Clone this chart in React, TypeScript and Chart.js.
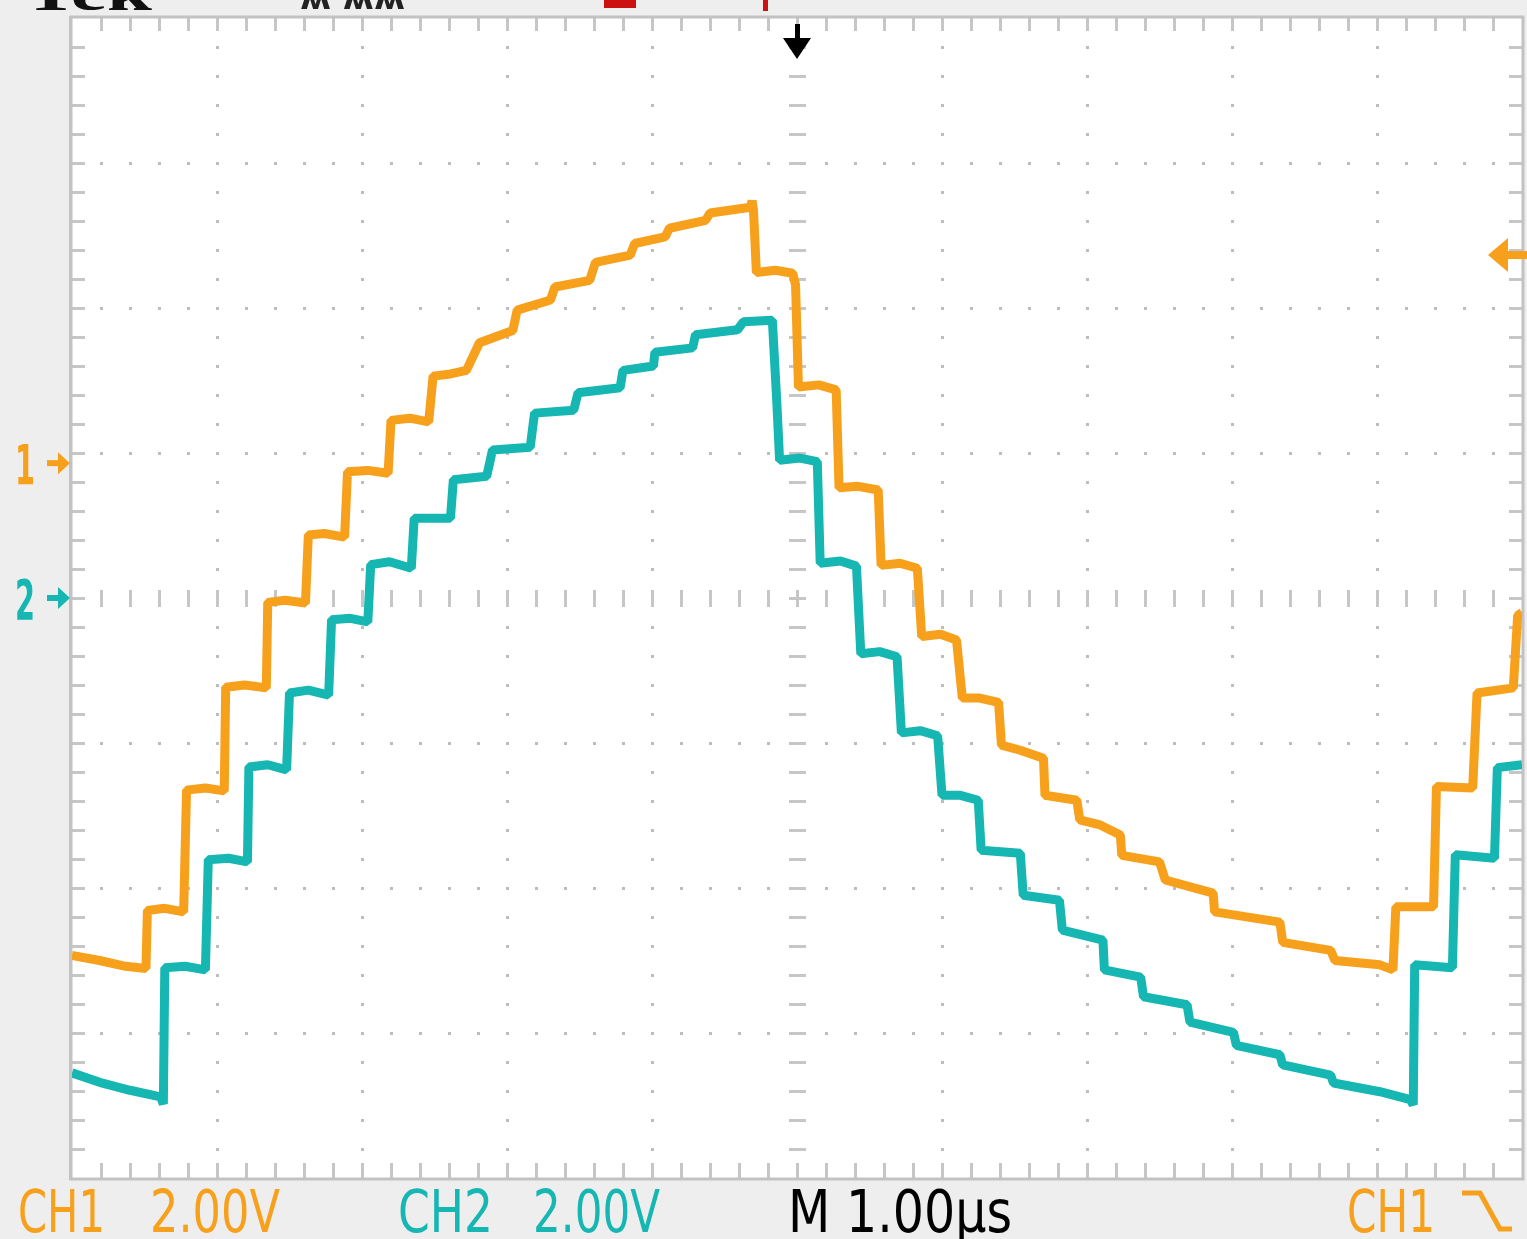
import React, { useEffect, useRef } from "react";
import { Chart, registerables } from "chart.js";

Chart.register(...registerables);

// ---- Scope settings ----
const timePerDiv = 1.0; // µs / div
const ch1VoltsPerDiv = 2.0;
const ch2VoltsPerDiv = 2.0;
const ch1Position = 0.93; // divisions above centre
const ch2Position = 0.0;
const triggerLevel = 2.87; // V on CH1

const labelCh1 = "CH1";
const labelCh1Scale = "2.00V";
const labelCh2 = "CH2";
const labelCh2Scale = "2.00V";
const labelTime = "M 1.00µs";
const labelTrigSource = "CH1";

// ---- CH1 trace (time µs, volts) ----
const ch1Time = [
  -5.0, -4.81, -4.63, -4.49, -4.48, -4.36, -4.23, -4.21, -4.08, -3.95, -3.94, -3.81, -3.66, -3.65, -3.53,
  -3.39, -3.37, -3.26, -3.12, -3.1, -2.96, -2.82, -2.8, -2.67, -2.54, -2.51, -2.39, -2.28, -2.19, -1.96,
  -1.93, -1.7, -1.67, -1.43, -1.39, -1.15, -1.12, -0.91, -0.88, -0.63, -0.6, -0.32, -0.31, -0.3, -0.28,
  -0.15, -0.03, -0.01, 0.01, 0.15, 0.27, 0.29, 0.42, 0.56, 0.58, 0.71, 0.83, 0.86, 0.99, 1.1,
  1.14, 1.26, 1.39, 1.41, 1.54, 1.7, 1.71, 1.93, 1.95, 2.09, 2.23, 2.24, 2.5, 2.54, 2.87,
  2.88, 3.33, 3.35, 3.68, 3.71, 4.02, 4.11, 4.13, 4.39, 4.41, 4.66, 4.69, 4.94, 4.97, 5.0,
];
const ch1Volts = [
  -6.79, -6.86, -6.94, -6.97, -6.17, -6.14, -6.19, -4.51, -4.48, -4.52, -3.09, -3.06, -3.1, -1.92, -1.89,
  -1.93, -0.99, -0.97, -1.02, -0.12, -0.1, -0.14, 0.59, 0.62, 0.57, 1.2, 1.23, 1.28, 1.66, 1.83,
  2.11, 2.25, 2.43, 2.52, 2.77, 2.87, 3.03, 3.12, 3.24, 3.35, 3.45, 3.53, 3.62, 3.49, 2.63,
  2.66, 2.62, 2.46, 1.05, 1.08, 1.01, -0.34, -0.32, -0.37, -1.41, -1.38, -1.45, -2.39, -2.36, -2.44,
  -3.24, -3.24, -3.3, -3.89, -3.96, -4.07, -4.58, -4.65, -4.92, -4.99, -5.13, -5.41, -5.5, -5.75, -5.93,
  -6.19, -6.33, -6.61, -6.72, -6.86, -6.92, -6.99, -6.12, -6.12, -4.46, -4.48, -3.17, -3.1, -2.1, -2.06,
];

// ---- CH2 trace (time µs, volts) ----
const ch2Time = [
  -5.0, -4.81, -4.6, -4.39, -4.37, -4.36, -4.22, -4.08, -4.06, -3.92, -3.79, -3.78, -3.65, -3.52, -3.5,
  -3.37, -3.23, -3.21, -3.08, -2.96, -2.94, -2.81, -2.66, -2.64, -2.39, -2.37, -2.14, -2.1, -1.84, -1.81,
  -1.54, -1.51, -1.22, -1.2, -0.99, -0.98, -0.72, -0.7, -0.41, -0.37, -0.17, -0.14, -0.12, 0.02, 0.14,
  0.16, 0.3, 0.41, 0.44, 0.57, 0.69, 0.72, 0.85, 0.97, 1.0, 1.12, 1.25, 1.27, 1.54, 1.56,
  1.81, 1.83, 2.11, 2.12, 2.37, 2.39, 2.69, 2.71, 3.01, 3.03, 3.33, 3.35, 3.68, 3.7, 4.02,
  4.23, 4.25, 4.26, 4.52, 4.54, 4.81, 4.83, 5.0,
];
const ch2Volts = [
  -6.55, -6.68, -6.79, -6.88, -6.98, -5.1, -5.08, -5.13, -3.61, -3.59, -3.64, -2.33, -2.3, -2.37, -1.31,
  -1.27, -1.34, -0.3, -0.28, -0.33, 0.46, 0.5, 0.41, 1.1, 1.1, 1.63, 1.68, 2.04, 2.08, 2.55,
  2.59, 2.83, 2.9, 3.14, 3.2, 3.39, 3.45, 3.63, 3.7, 3.81, 3.83, 2.73, 1.9, 1.93, 1.88,
  0.48, 0.51, 0.44, -0.77, -0.74, -0.81, -1.86, -1.83, -1.9, -2.72, -2.72, -2.79, -3.48, -3.52, -4.1,
  -4.17, -4.58, -4.72, -5.13, -5.23, -5.5, -5.61, -5.85, -5.99, -6.17, -6.3, -6.44, -6.58, -6.69, -6.81,
  -6.92, -6.99, -5.06, -5.1, -3.54, -3.59, -2.34, -2.3,
];

const ORANGE = "#f7a01c";
const TEAL = "#16b6b2";
const GRID = "#bdbdbd";
const BG = "#eeeeee";

function fitText(
  ctx: CanvasRenderingContext2D,
  text: string,
  x: number,
  baseline: number,
  width: number,
  font: string,
  color: string
) {
  ctx.save();
  ctx.font = font;
  ctx.fillStyle = color;
  ctx.textBaseline = "alphabetic";
  ctx.textAlign = "left";
  const w = ctx.measureText(text).width || 1;
  ctx.translate(x, baseline);
  ctx.scale(width / w, 1);
  ctx.fillText(text, 0, 0);
  ctx.restore();
}

const scopePlugin = {
  id: "scopeScreen",
  beforeDraw(chart: any) {
    const ctx: CanvasRenderingContext2D = chart.ctx;
    const { left, right, top, bottom } = chart.chartArea;
    const xs = chart.scales.x;
    const ys = chart.scales.y;
    ctx.save();
    ctx.fillStyle = BG;
    ctx.fillRect(0, 0, chart.width, chart.height);
    ctx.fillStyle = "#ffffff";
    ctx.fillRect(left, top, right - left, bottom - top);

    // dotted graticule
    ctx.fillStyle = GRID;
    for (let i = -4; i <= 4; i++) {
      if (i === 0) continue;
      const x = xs.getPixelForValue(i * timePerDiv);
      for (let k = -19; k <= 19; k++) {
        const y = ys.getPixelForValue(k / 5);
        ctx.fillRect(Math.round(x) - 1, Math.round(y) - 1, 3, 3);
      }
    }
    for (let j = -3; j <= 3; j++) {
      if (j === 0) continue;
      const y = ys.getPixelForValue(j);
      for (let k = -24; k <= 24; k++) {
        const x = xs.getPixelForValue((k / 5) * timePerDiv);
        ctx.fillRect(Math.round(x) - 1, Math.round(y) - 1, 3, 3);
      }
    }

    // centre axes with minor ticks
    ctx.fillStyle = "#c6c6c6";
    const cx = xs.getPixelForValue(0);
    const cy = ys.getPixelForValue(0);
    for (let k = -19; k <= 19; k++) {
      const y = ys.getPixelForValue(k / 5);
      ctx.fillRect(Math.round(cx) - 8, Math.round(y) - 1, 17, 3);
    }
    for (let k = -24; k <= 24; k++) {
      const x = xs.getPixelForValue((k / 5) * timePerDiv);
      ctx.fillRect(Math.round(x) - 1, Math.round(cy) - 8, 3, 17);
    }
    // edge ticks
    for (let k = -24; k <= 24; k++) {
      const x = Math.round(xs.getPixelForValue((k / 5) * timePerDiv));
      ctx.fillRect(x - 1, top, 3, 13);
      ctx.fillRect(x - 1, bottom - 15, 3, 15);
    }
    for (let k = -19; k <= 19; k++) {
      const y = Math.round(ys.getPixelForValue(k / 5));
      ctx.fillRect(left, y - 1, 13, 3);
      ctx.fillRect(right - 13, y - 1, 13, 3);
    }
    // border
    ctx.strokeStyle = "#c2c2c2";
    ctx.lineWidth = 3;
    ctx.strokeRect(left - 1, top - 1, right - left + 2, bottom - top + 2);
    ctx.fillStyle = "#c2c2c2";
    ctx.fillRect(left - 3, top - 2, 3, bottom - top + 4);
    ctx.restore();
  },
  afterDraw(chart: any) {
    const ctx: CanvasRenderingContext2D = chart.ctx;
    const { left, right, top } = chart.chartArea;
    const xs = chart.scales.x;
    const ys = chart.scales.y;
    ctx.save();

    // cut-off status line at top
    fitText(ctx, "Tek", 24, 10, 128, "bold 50px 'Liberation Serif'", "#111111");
    fitText(ctx, "ʍ ʍʍ", 300, 9, 105, "bold 26px 'DejaVu Sans'", "#222222");
    ctx.fillStyle = "#cc1111";
    ctx.fillRect(604, 0, 32, 8);
    ctx.fillRect(763, 0, 5, 11);

    // trigger position arrow
    const tx = Math.round(xs.getPixelForValue(0));
    ctx.fillStyle = "#000000";
    ctx.fillRect(tx - 2, top + 6, 5, 20);
    ctx.beginPath();
    ctx.moveTo(tx - 14, top + 20);
    ctx.lineTo(tx + 14, top + 20);
    ctx.lineTo(tx, top + 41);
    ctx.closePath();
    ctx.fill();

    // trigger level arrow (right edge)
    const ty = ys.getPixelForValue(triggerLevel / ch1VoltsPerDiv + ch1Position);
    ctx.fillStyle = ORANGE;
    ctx.fillRect(right - 16, ty - 4, 21, 8);
    ctx.beginPath();
    ctx.moveTo(right - 34, ty);
    ctx.lineTo(right - 14, ty - 17);
    ctx.lineTo(right - 14, ty + 17);
    ctx.closePath();
    ctx.fill();

    // channel ground markers
    const markers = [
      { label: "1", pos: ch1Position, color: ORANGE },
      { label: "2", pos: ch2Position, color: TEAL },
    ];
    for (const m of markers) {
      const y = ys.getPixelForValue(m.pos);
      fitText(ctx, m.label, 15, y + 21, 20, "bold 56px 'DejaVu Sans'", m.color);
      ctx.fillStyle = m.color;
      ctx.fillRect(left - 25, y - 3, 14, 6);
      ctx.beginPath();
      ctx.moveTo(left - 14, y - 11);
      ctx.lineTo(left - 2, y);
      ctx.lineTo(left - 14, y + 11);
      ctx.closePath();
      ctx.fill();
    }

    // bottom readout
    const base = 1232;
    const f = "58px 'DejaVu Sans'";
    fitText(ctx, labelCh1, 18, base, 87, f, ORANGE);
    fitText(ctx, labelCh1Scale, 150, base, 130, f, ORANGE);
    fitText(ctx, labelCh2, 398, base, 95, f, TEAL);
    fitText(ctx, labelCh2Scale, 533, base, 127, f, TEAL);
    fitText(ctx, labelTime, 788, base, 224, f, "#000000");
    fitText(ctx, labelTrigSource, 1347, base, 88, f, ORANGE);
    // falling edge symbol
    ctx.strokeStyle = ORANGE;
    ctx.lineWidth = 5;
    ctx.beginPath();
    ctx.moveTo(1462, 1193);
    ctx.lineTo(1480, 1193);
    ctx.lineTo(1500, 1229);
    ctx.lineTo(1512, 1229);
    ctx.stroke();
    ctx.restore();
  },
};

export default function App() {
  const canvasRef = useRef<HTMLCanvasElement | null>(null);

  useEffect(() => {
    document.body.style.margin = "0";
    const canvas = canvasRef.current;
    if (!canvas) return;
    const ch1Data = ch1Time.map((t, i) => ({ x: t, y: ch1Volts[i] / ch1VoltsPerDiv + ch1Position }));
    const ch2Data = ch2Time.map((t, i) => ({ x: t, y: ch2Volts[i] / ch2VoltsPerDiv + ch2Position }));
    const chart = new Chart(canvas, {
      type: "line",
      data: {
        datasets: [
          {
            label: "CH1",
            data: ch1Data,
            borderColor: ORANGE,
            borderWidth: 9,
            pointRadius: 0,
            tension: 0,
            fill: false,
            borderJoinStyle: "bevel",
            borderCapStyle: "butt",
          },
          {
            label: "CH2",
            data: ch2Data,
            borderColor: TEAL,
            borderWidth: 9,
            pointRadius: 0,
            tension: 0,
            fill: false,
            borderJoinStyle: "bevel",
            borderCapStyle: "butt",
          },
        ],
      },
      options: {
        responsive: false,
        animation: false,
        devicePixelRatio: 1,
        layout: { padding: { left: 72, right: 5, top: 18, bottom: 61 } },
        plugins: { legend: { display: false }, tooltip: { enabled: false } },
        scales: {
          x: { type: "linear", min: -5 * timePerDiv, max: 5 * timePerDiv, display: false },
          y: { type: "linear", min: -4, max: 4, display: false },
        },
      } as any,
      plugins: [scopePlugin],
    });
    return () => chart.destroy();
  }, []);

  return (
    <div style={{ position: "relative", width: 1527, height: 1239 }}>
      <canvas ref={canvasRef} width={1527} height={1239} style={{ display: "block" }} />
    </div>
  );
}
